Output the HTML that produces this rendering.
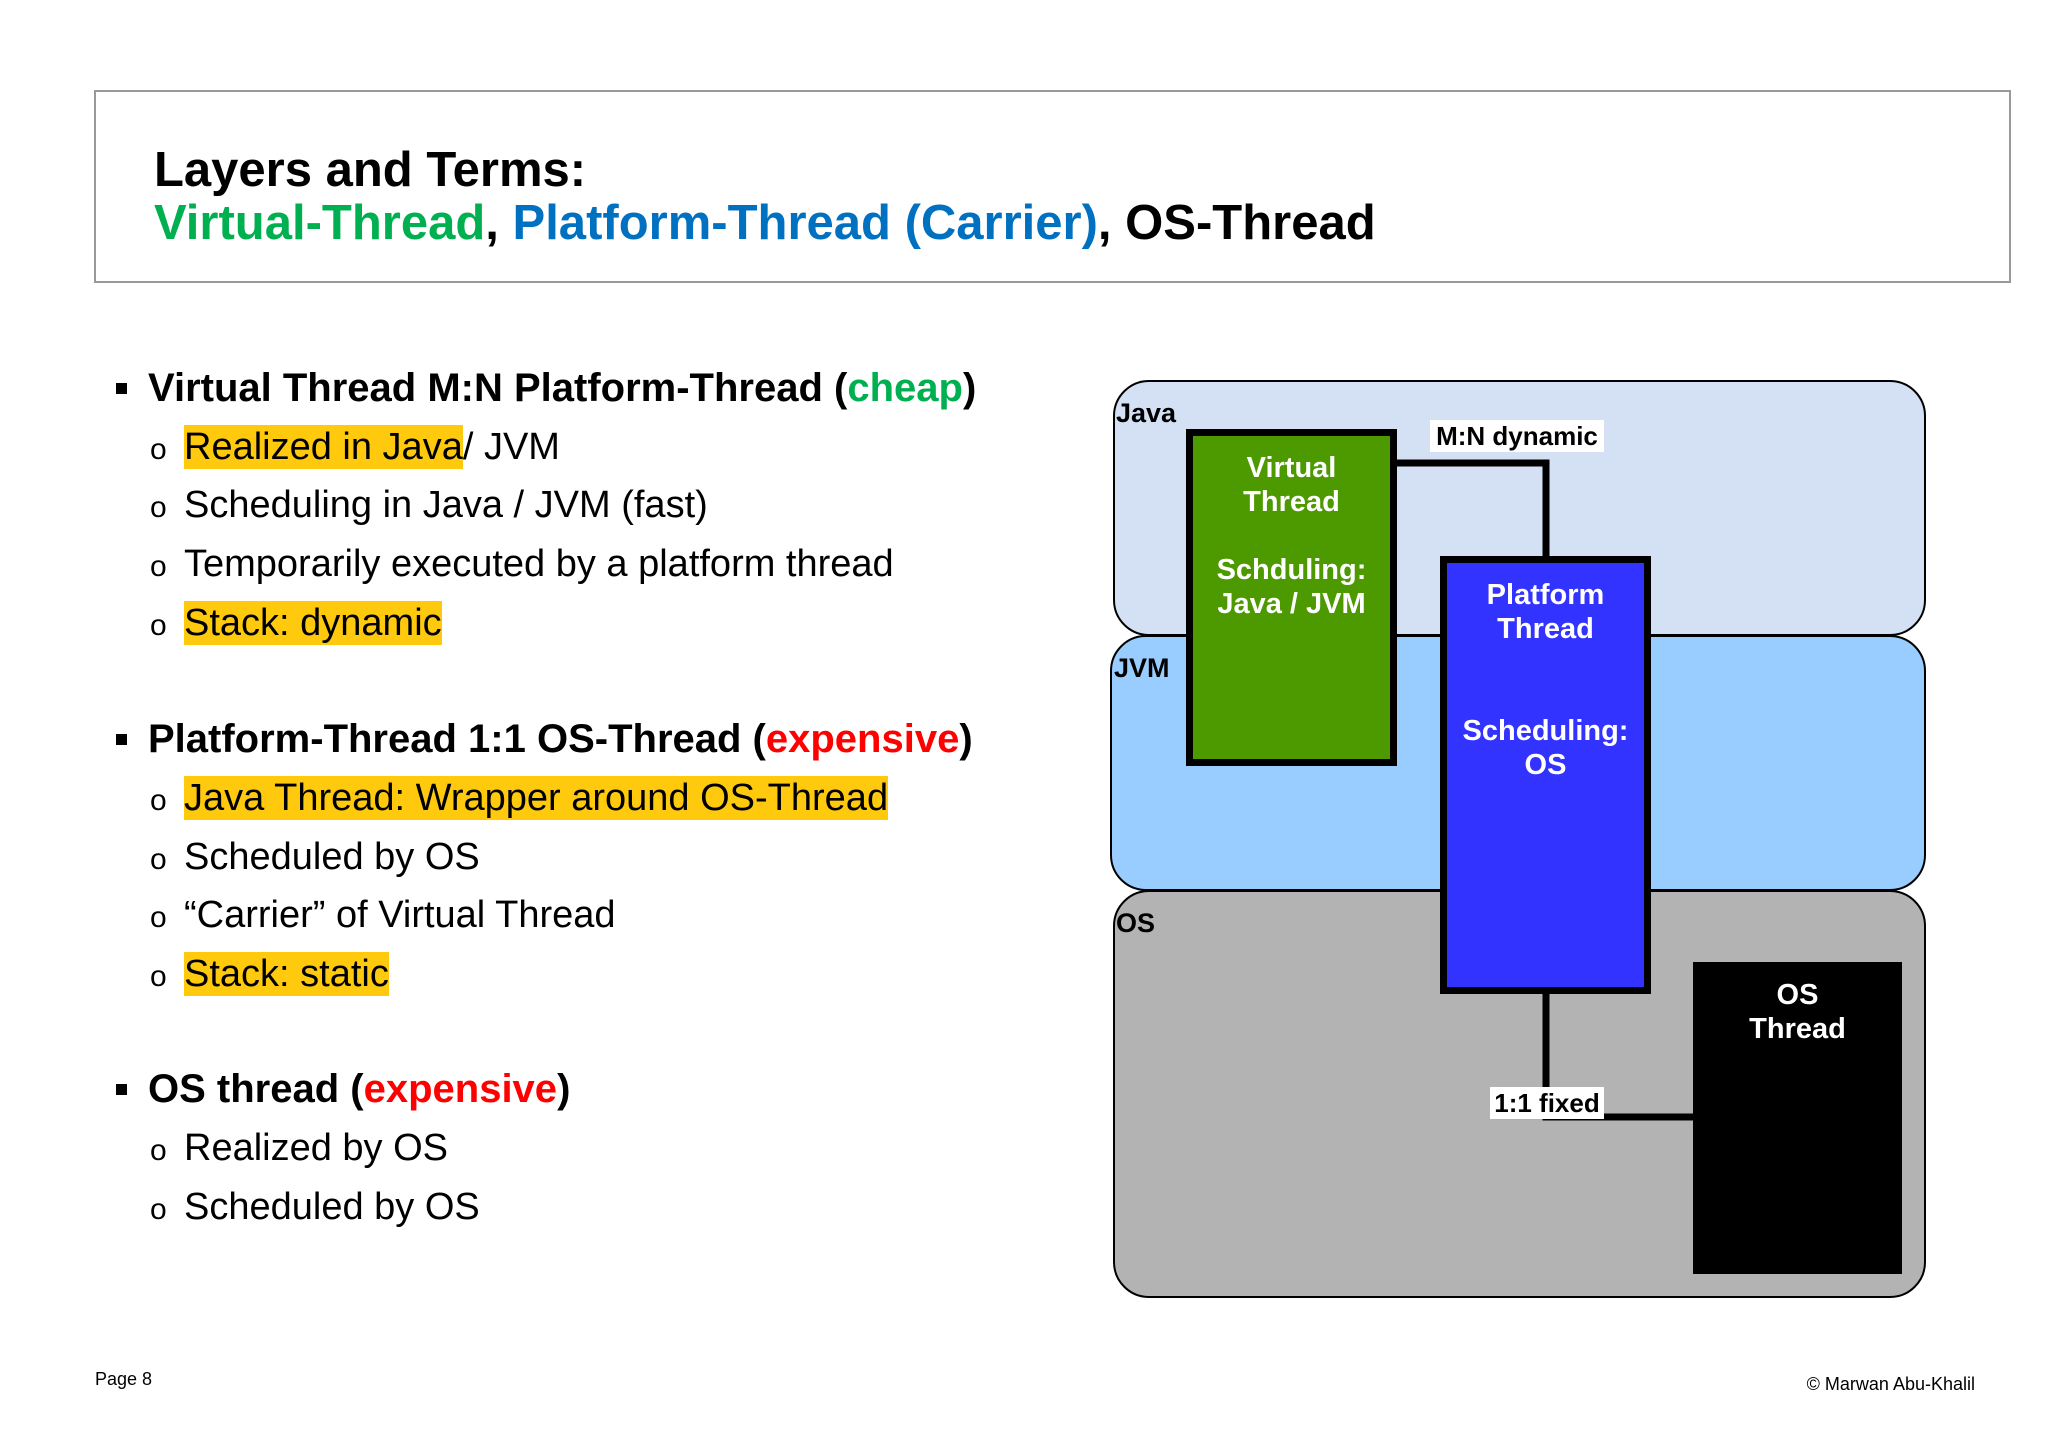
<!DOCTYPE html>
<html><head><meta charset="utf-8"><style>
body{margin:0;width:2048px;height:1448px;background:#fff;position:relative;overflow:hidden;font-family:"Liberation Sans",Arial,sans-serif}
.a{position:absolute;white-space:nowrap}
.hb{position:absolute;left:94px;top:90px;width:1917px;height:193px;border:2px solid #999;box-sizing:border-box}
.t{font-weight:bold;font-size:49px;left:154px}
.h{font-weight:bold;font-size:40px;left:148px;line-height:44px}
.s{font-size:38px;left:184px;line-height:44px}
.bul{position:absolute;width:11px;height:11px;background:#000;left:116px}
.o{position:absolute;left:150px;font-size:30px;line-height:30px}
.y{background:#ffc90e;display:inline-block;height:44px}
.g{color:#00b050}.b{color:#0070c0}.r{color:#ff0000}
.band{position:absolute;border:2px solid #000;border-radius:36px;box-sizing:border-box}
.lay{position:absolute;font-weight:bold;font-size:27px}
.box{position:absolute;box-sizing:border-box;color:#fff;font-weight:bold;font-size:29px;text-align:center;line-height:34px}
.lbl{position:absolute;background:#fff;font-weight:bold;font-size:26px;line-height:32px;text-align:center}
</style></head><body>
<div class="hb"></div>
<div class="a t" style="top:142px">Layers and Terms:</div>
<div class="a t" style="top:195px"><span class="g">Virtual-Thread</span>, <span class="b">Platform-Thread (Carrier)</span>, OS-Thread</div>

<div class="bul" style="top:383px"></div>
<div class="a h" style="top:366px">Virtual Thread M:N Platform-Thread (<span class="g">cheap</span>)</div>
<div class="o" style="top:435px">o</div><div class="a s" style="top:425px"><span class="y">Realized in Java </span>/ JVM</div>
<div class="o" style="top:493px">o</div><div class="a s" style="top:483px">Scheduling in Java / JVM (fast)</div>
<div class="o" style="top:552px">o</div><div class="a s" style="top:542px">Temporarily executed by a platform thread</div>
<div class="o" style="top:611px">o</div><div class="a s" style="top:601px"><span class="y">Stack: dynamic</span></div>

<div class="bul" style="top:734px"></div>
<div class="a h" style="top:717px">Platform-Thread 1:1 OS-Thread (<span class="r">expensive</span>)</div>
<div class="o" style="top:786px">o</div><div class="a s" style="top:776px"><span class="y">Java Thread: Wrapper around OS-Thread</span></div>
<div class="o" style="top:845px">o</div><div class="a s" style="top:835px">Scheduled by OS</div>
<div class="o" style="top:903px">o</div><div class="a s" style="top:893px">“Carrier” of Virtual Thread</div>
<div class="o" style="top:962px">o</div><div class="a s" style="top:952px"><span class="y">Stack: static</span></div>

<div class="bul" style="top:1084px"></div>
<div class="a h" style="top:1067px">OS thread (<span class="r">expensive</span>)</div>
<div class="o" style="top:1136px">o</div><div class="a s" style="top:1126px">Realized by OS</div>
<div class="o" style="top:1195px">o</div><div class="a s" style="top:1185px">Scheduled by OS</div>

<div class="a" style="left:95px;top:1369px;font-size:18px">Page 8</div>
<div class="a" style="right:73px;top:1374px;font-size:18px">© Marwan Abu-Khalil</div>

<!-- diagram -->
<div class="band" style="left:1113px;top:380px;width:813px;height:256px;background:#d4e1f4"></div>
<div class="band" style="left:1110px;top:635px;width:816px;height:256px;background:#99ccff"></div>
<div class="band" style="left:1113px;top:890px;width:813px;height:408px;background:#b3b3b3"></div>
<div class="lay" style="left:1116px;top:398px">Java</div>
<div class="lay" style="left:1114px;top:653px">JVM</div>
<div class="lay" style="left:1116px;top:908px">OS</div>

<svg class="a" style="left:0;top:0" width="2048" height="1448">
<polyline points="1396,463 1546,463 1546,560" fill="none" stroke="#000" stroke-width="7"/>
<polyline points="1546,990 1546,1117 1700,1117" fill="none" stroke="#000" stroke-width="7"/>
</svg>

<div class="box" style="left:1186px;top:429px;width:211px;height:337px;background:#4d9900;border:7px solid #000;padding-top:15px">Virtual<br>Thread<br><br>Schduling:<br>Java / JVM</div>
<div class="box" style="left:1440px;top:556px;width:211px;height:438px;background:#3333ff;border:7px solid #000;padding-top:15px">Platform<br>Thread<br><br><br>Scheduling:<br>OS</div>
<div class="box" style="left:1693px;top:962px;width:209px;height:312px;background:#000;padding-top:16px">OS<br>Thread</div>

<div class="lbl" style="left:1430px;top:420px;width:174px">M:N dynamic</div>
<div class="lbl" style="left:1490px;top:1087px;width:114px">1:1 fixed</div>
</body></html>
